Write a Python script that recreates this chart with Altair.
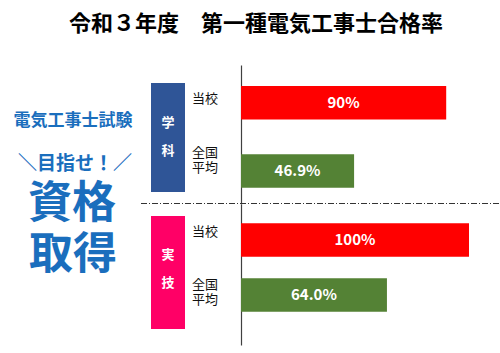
import altair as alt
import pandas as pd

# ---- data ----
subjects = ["学科", "学科", "実技", "実技"]
groups = ["当校", "全国\n平均", "当校", "全国\n平均"]
bar_lengths = [90, 49.6, 100, 64.0]   # bar lengths as drawn in the reference
rate_labels = ["90%", "46.9%", "100%", "64.0%"]
group_order = ["当校", "全国\n平均"]
bar_colors = ["#FF0000", "#548235"]

title_text = "令和３年度　第一種電気工事士合格率"
side_texts = ["電気工事士試験", "＼目指せ！／", "資格", "取得"]
box_chars = [["学", "科"], ["実", "技"]]
box_colors = ["#2F5597", "#FF0066"]

df = pd.DataFrame({"subject": subjects, "group": groups, "rate": bar_lengths, "label": rate_labels})

FONT = "Noto Sans CJK JP"
BLUE = "#1A6EBD"
dummy = pd.DataFrame({"a": [0]})

xscale = alt.Scale(domain=[0, 100], range=[241, 469])


def section(subject, yrange, pin, pout, align, dy_single, dy_multi):
    d = df[df["subject"] == subject]
    yscale = alt.Scale(domain=group_order, range=yrange, paddingInner=pin,
                       paddingOuter=pout, align=align, round=False)
    y = alt.Y("group:N", scale=yscale,
              axis=alt.Axis(orient="left", offset=-241, labels=False, ticks=False,
                            title=None, domainColor="#404040", domainWidth=1.2, grid=False))
    base = alt.Chart(d)
    bars = base.mark_bar().encode(
        x=alt.X("rate:Q", scale=xscale, axis=None),
        y=y,
        color=alt.Color("group:N", scale=alt.Scale(domain=group_order, range=bar_colors), legend=None),
    )
    vals = base.mark_text(color="white", fontWeight="bold", font=FONT, fontSize=15).transform_calculate(
        mid="datum.rate / 2"
    ).encode(
        x=alt.X("mid:Q", scale=xscale, axis=None),
        y=y,
        text="label:N",
    )
    cats1 = base.transform_filter(alt.datum.group == group_order[0]).mark_text(
        align="left", font=FONT, fontSize=13, dy=dy_single, color="#111111"
    ).encode(x=alt.value(192), y=y, text="group:N")
    cats2 = base.transform_filter(alt.datum.group == group_order[1]).mark_text(
        align="left", font=FONT, fontSize=13, lineBreak="\n", lineHeight=15,
        dy=dy_multi, color="#111111"
    ).encode(x=alt.value(192), y=y, text="group:N")
    return alt.layer(bars, vals, cats1, cats2)


def txt(s, x, y, size, color="black", weight="bold"):
    return alt.Chart(dummy).mark_text(font=FONT, fontSize=size, fontWeight=weight, color=color).encode(
        x=alt.value(x), y=alt.value(y), text=alt.value(s)
    )


def box(x1, x2, y1, y2, color):
    return alt.Chart(dummy).mark_rect(color=color).encode(
        x=alt.value(x1), x2=alt.value(x2), y=alt.value(y1), y2=alt.value(y2)
    )


decor = [
    txt(title_text, 256, 24, 22),
    txt(side_texts[0], 73, 121, 17, BLUE),
    txt(side_texts[1], 75, 164, 19, BLUE),
    txt(side_texts[2], 72, 205, 44, BLUE),
    txt(side_texts[3], 73, 256, 44, BLUE),
    box(151, 185, 83, 192, box_colors[0]),
    box(151, 185, 216, 329, box_colors[1]),
    txt(box_chars[0][0], 168, 123, 13, "white"),
    txt(box_chars[0][1], 168, 151, 13, "white"),
    txt(box_chars[1][0], 168, 255, 13, "white"),
    txt(box_chars[1][1], 168, 283, 13, "white"),
    alt.Chart(dummy).mark_rule(color="#333333", strokeWidth=1, strokeDash=[6, 2, 1, 2]).encode(
        x=alt.value(141), x2=alt.value(500), y=alt.value(203.5)
    ),
]

sec1 = section("学科", [65, 204], 0.511, 0.273, 0.563, -4, -18)
sec2 = section("実技", [204, 345], 0.393, 0.478, 0.367, -8, -10.5)

chart = alt.layer(*decor, sec1, sec2).resolve_scale(y="independent").properties(
    width=500, height=353, autosize=alt.AutoSizeParams(type="none"), padding=0,
    background="white",
).configure_view(stroke=None)

chart.save("out.html", embed_options={"renderer": "svg", "actions": False})
